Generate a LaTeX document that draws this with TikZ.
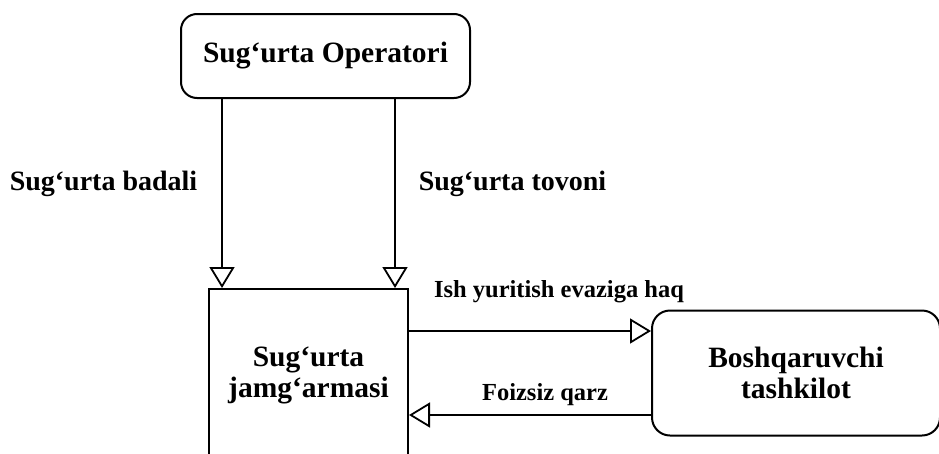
\documentclass[tikz,border=0pt]{standalone}
\usepackage{fontspec}
\setmainfont{Liberation Serif}
\usetikzlibrary{arrows.meta}

\begin{document}
\begin{tikzpicture}
         [x=1pt,y=-1pt,every node/.style={font=\bfseries\fontsize{29.5}{31}\selectfont, align=center},
          box/.style={draw, line width=2pt, inner sep=0pt},
          lbl/.style={font=\bfseries\fontsize{24.5}{28}\selectfont},
          flow/.style={line width=1.8pt, -{Triangle[open, length=21pt, width=25pt, line width=1.8pt]}}]
         \useasboundingbox (0,0) rectangle (939,453);
         \clip (0,0) rectangle (939,453);
         \node[box, rounded corners=16pt, minimum width=289pt, minimum height=84pt] (op) at (325.5,56) {Sug‘urta Operatori};
         \node[box, minimum width=199pt, minimum height=172pt] (jam) at (308.5,375) {Sug‘urta\\jamg‘armasi};
         \node[box, rounded corners=18pt, minimum width=288pt, minimum height=125pt] (bt) at (796,373) {Boshqaruvchi\\tashkilot};
         \node[font=\bfseries\fontsize{28}{30}\selectfont] (badal) at (103.5,184) {Sug‘urta badali};
         \node[font=\bfseries\fontsize{28}{30}\selectfont] (tovon) at (512.5,184) {Sug‘urta tovoni};
         \node[lbl] (haq) at (559,292) {Ish yuritish evaziga haq};
         \node[lbl] (qarz) at (545,395) {Foizsiz qarz};
         \foreach \dx in {-103.5pt, 69.5pt}
            \draw[flow] ([xshift=\dx]op.south) -- ([xshift=\dx]op.south |- jam.north);
         \draw[flow] ([yshift=44pt]jam.east) -- ([yshift=44pt]jam.east -| bt.west);
         \draw[flow] ([yshift=-40pt]jam.east -| bt.west) -- ([yshift=-40pt]jam.east);
       \end{tikzpicture}
\end{document}
